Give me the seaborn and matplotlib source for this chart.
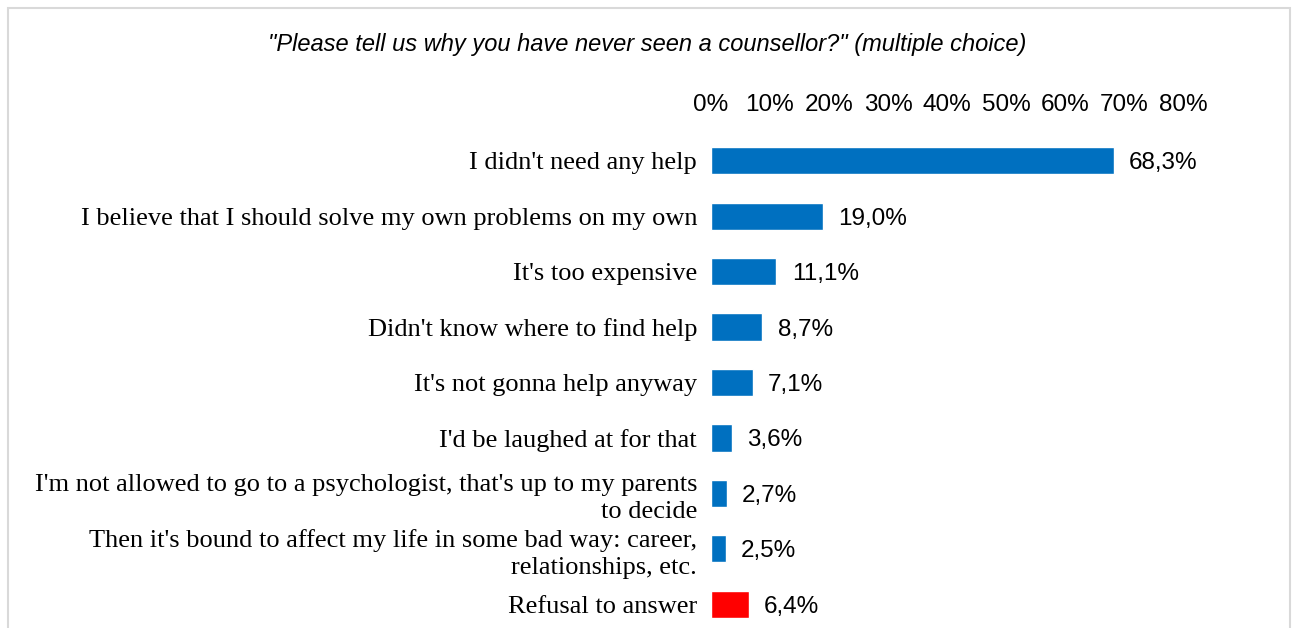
import matplotlib
matplotlib.use("Agg")
import matplotlib.pyplot as plt
from matplotlib.patches import Rectangle
import seaborn as sns

categories = [
    "I didn't need any help",
    "I believe that I should solve my own problems on my own",
    "It's too expensive",
    "Didn't know where to find help",
    "It's not gonna help anyway",
    "I'd be laughed at for that",
    "I'm not allowed to go to a psychologist, that's up to my parents\nto decide",
    "Then it's bound to affect my life in some bad way: career,\nrelationships, etc.",
    "Refusal to answer",
]
values = [68.3, 19.0, 11.1, 8.7, 7.1, 3.6, 2.7, 2.5, 6.4]
bar_colors = ["#0070C0"] * 8 + ["#FF0000"]
x_ticks = [0, 10, 20, 30, 40, 50, 60, 70, 80]
title = "\"Please tell us why you have never seen a counsellor?\" (multiple choice)"

sns.set_theme(style="white")
plt.rcParams["font.family"] = ["Liberation Sans", "DejaVu Sans"]

W, H = 1294, 628
fig = plt.figure(figsize=(W / 100, H / 100), dpi=100)
fig.patch.set_facecolor("white")

# light grey chart-area frame
fig.patches.append(Rectangle((8 / W, -0.05), (1290 - 8) / W, 1.05 - 8 / H,
                             transform=fig.transFigure, fill=False,
                             edgecolor="#D9D9D9", linewidth=1.5))

ax = fig.add_axes([711 / W, 1 - 632 / H, (1183 - 711) / W, (632 - 133) / H])

sns.barplot(x=values, y=categories, hue=categories, palette=bar_colors,
            legend=False, width=0.49, orient="h", ax=ax, saturation=1)

ax.set_xlim(0, 80)
ax.set_ylim(len(categories) - 0.5, -0.5)
ax.xaxis.tick_top()
ax.set_xticks(x_ticks)
ax.set_xticklabels([f"{t}%" for t in x_ticks], fontsize=17.5, color="#000000")
ax.tick_params(axis="x", length=0, pad=12)
ax.tick_params(axis="y", length=0, pad=10)
for lbl in ax.get_yticklabels():
    lbl.set_fontfamily(["Liberation Serif", "DejaVu Serif"])
    lbl.set_fontsize(19)
    lbl.set_linespacing(1.32)
    lbl.set_color("#000000")
ax.set_xlabel("")
ax.set_ylabel("")
for s in ax.spines.values():
    s.set_visible(False)
ax.grid(False)

labels = [f"{v:.1f}".replace(".", ",") + "%" for v in values]
for container, lab in zip(ax.containers, labels):
    texts = ax.bar_label(container, labels=[lab], padding=11, fontsize=17.5,
                         color="#000000")
    for t in texts:
        t.set_va("center_baseline")

fig.text(0.5, 1 - 44 / H, title, ha="center", va="center",
         fontsize=17, style="italic", color="#000000")

fig.savefig("out.png", dpi=100, facecolor="white")
